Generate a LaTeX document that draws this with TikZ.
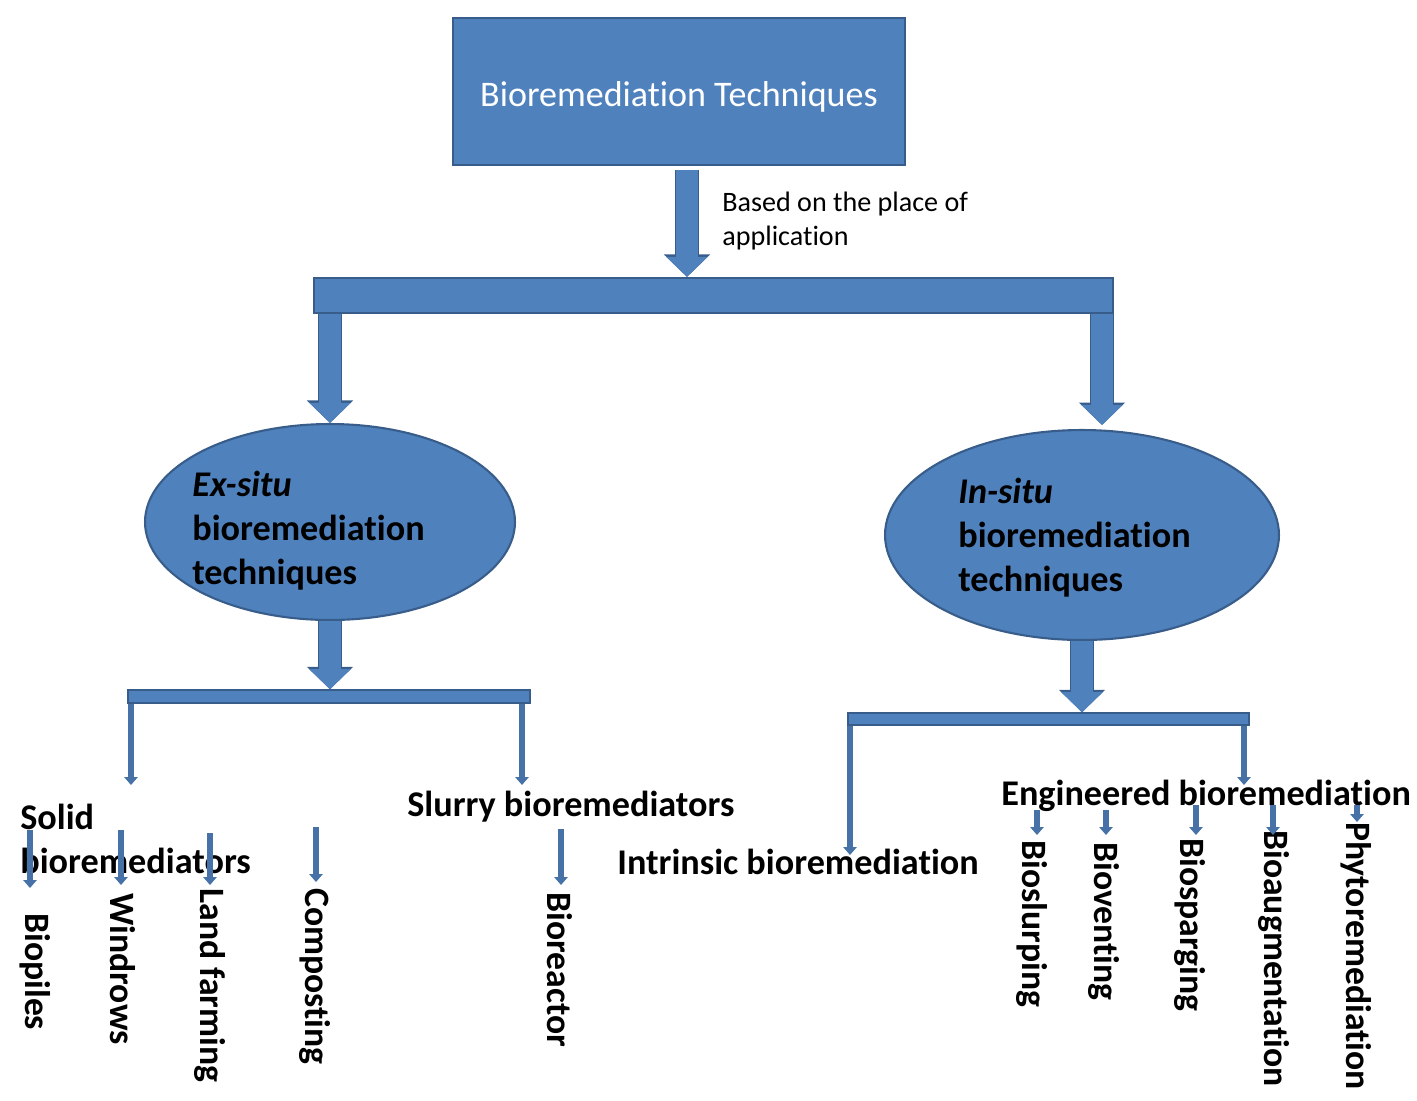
\documentclass[tikz,border=0pt]{standalone}
\usepackage{fontspec}
\setmainfont{Carlito}[Ligatures={NoCommon,NoContextual}, Contextuals=NoAlternate]
\usepackage{tikz}
\usetikzlibrary{shapes.geometric, positioning, arrows.meta, calc}
\definecolor{BRBlue}{RGB}{79,129,189}
\definecolor{BRDark}{RGB}{56,93,138}
\definecolor{BRLine}{RGB}{70,114,168}

\begin{document}
\begin{tikzpicture}[x=0.02cm, y=-0.02cm,
          box/.style={rectangle, fill=BRBlue, draw=BRDark, line width=1.2pt, inner sep=0pt},
          oval/.style={ellipse, fill=BRBlue, draw=BRDark, line width=1.2pt, inner sep=0pt},
          bigarr/.style={draw=BRBlue, line width=12pt, -{Triangle[width=23pt, length=11.5pt]},
                         preaction={draw=BRDark, line width=13.5pt, -{Triangle[width=25.5pt, length=12.8pt]}}},
          thinarr/.style={draw=BRLine, line width=3.2pt, -{Triangle[width=7.5pt, length=4.5pt]}},
          lbl/.style={font=\fontsize{20.6}{25}\selectfont\bfseries, inner sep=0pt, align=left, anchor=west},
          item/.style={font=\fontsize{20.3}{24}\selectfont\bfseries, inner sep=0pt, rotate=-90, anchor=west}
        ]
        \useasboundingbox (0,0) rectangle (1417,1100);

        % Top box
        \node[box, minimum width=9.04cm, minimum height=2.94cm, text=white, text height=20pt,
              font=\fontsize{20.5}{24}\selectfont] (techniques) at (679, 91.5)
              {Bioremediation Techniques};

        % First split
        \node[box, minimum width=15.98cm, minimum height=0.7cm] (placebar) at (713.5, 295.5) {};
        \coordinate (basetop) at (687, 170);
        \draw[bigarr] (basetop) -- (basetop |- placebar.north);
        \node[font=\fontsize{16}{19.3}\selectfont, align=left, anchor=west, inner sep=0pt]
              (basis) at (722, 221) {Based on the place of\\application};

        % Ex-situ branch
        \node[oval, minimum width=7.4cm, minimum height=3.92cm] (exsitu) at (330, 522) {};
        \node[lbl] (exsitutext) at (192, 531)
              {\textit{Ex-situ}\\bioremediation\\techniques};
        \draw[bigarr] (exsitu.north |- placebar.south) -- (exsitu.north);

        % In-situ branch
        \node[oval, minimum width=7.88cm, minimum height=4.2cm] (insitu) at (1082, 535) {};
        \node[lbl] (insitutext) at (958, 538)
              {\textit{In-situ}\\bioremediation\\techniques};
        \coordinate (insitutop) at (1102, 425);
        \draw[bigarr] (insitutop |- placebar.south) -- (insitutop);

        % Second level bars
        \node[box, line width=0.8pt, minimum width=8.04cm, minimum height=0.26cm] (exbar) at (329, 696.5) {};
        \draw[bigarr] (exsitu.south) -- (exsitu.south |- exbar.north);
        \node[box, line width=0.8pt, minimum width=8.02cm, minimum height=0.24cm] (inbar) at (1048.5, 719) {};
        \draw[bigarr] (insitu.south) -- (insitu.south |- inbar.north);

        % Second level labels
        \node[lbl] (solid) at (20, 839) {Solid\\bioremediators};
        \node[lbl] (slurry) at (407, 807) {Slurry bioremediators};
        \node[lbl] (intrinsic) at (617, 862) {Intrinsic bioremediation};
        \node[lbl] (engineered) at (1001, 796) {Engineered bioremediation};

        \coordinate (solidtip) at (131, 785);
        \coordinate (slurrytip) at (522, 785);
        \coordinate (intrinsictip) at (850, 855);
        \coordinate (engtip) at (1244, 785);
        \draw[thinarr] (solidtip |- exbar.south) -- (solidtip);
        \draw[thinarr] (slurrytip |- exbar.south) -- (slurrytip);
        \draw[thinarr] (intrinsictip |- inbar.south) -- (intrinsictip);
        \draw[thinarr] (engtip |- inbar.south) -- (engtip);

        % Ex-situ techniques
        \node[item] (biopiles) at (35, 913) {Biopiles};
        \node[item] (windrows) at (123, 893) {Windrows};
        \node[item] (landfarming) at (210, 888) {Land farming};
        \node[item] (composting) at (315, 888) {Composting};
        \node[item] (bioreactor) at (560, 892) {Bioreactor};
        \coordinate (biopilesfrom) at (30, 830);     \coordinate (biopilesto) at (30, 888);
        \coordinate (windrowsfrom) at (121, 830);    \coordinate (windrowsto) at (121, 885);
        \coordinate (landfarmingfrom) at (210, 833); \coordinate (landfarmingto) at (210, 885);
        \coordinate (compostingfrom) at (316, 827);  \coordinate (compostingto) at (316, 882);
        \coordinate (bioreactorfrom) at (561, 829);  \coordinate (bioreactorto) at (561, 885);
        \draw[thinarr] (biopilesfrom) -- (biopilesto);
        \draw[thinarr] (windrowsfrom) -- (windrowsto);
        \draw[thinarr] (landfarmingfrom) -- (landfarmingto);
        \draw[thinarr] (compostingfrom) -- (compostingto);
        \draw[thinarr] (bioreactorfrom) -- (bioreactorto);

        % In-situ techniques
        \node[item] (bioslurping) at (1032, 840) {Bioslurping};
        \node[item] (bioventing) at (1104, 842) {Bioventing};
        \node[item] (biosparging) at (1190, 838) {Biosparging};
        \node[item] (bioaugmentation) at (1274, 830) {Bioaugmentation};
        \node[item] (phytoremediation) at (1356, 822) {Phytoremediation};
        \coordinate (bioslurpingfrom) at (1037, 810);      \coordinate (bioslurpingto) at (1037, 835);
        \coordinate (bioventingfrom) at (1106, 810);       \coordinate (bioventingto) at (1106, 835);
        \coordinate (biospargingfrom) at (1196, 805);      \coordinate (biospargingto) at (1196, 835);
        \coordinate (bioaugmentationfrom) at (1273, 805);  \coordinate (bioaugmentationto) at (1273, 835);
        \coordinate (phytoremediationfrom) at (1357, 805); \coordinate (phytoremediationto) at (1357, 822);
        \draw[thinarr] (bioslurpingfrom) -- (bioslurpingto);
        \draw[thinarr] (bioventingfrom) -- (bioventingto);
        \draw[thinarr] (biospargingfrom) -- (biospargingto);
        \draw[thinarr] (bioaugmentationfrom) -- (bioaugmentationto);
        \draw[thinarr] (phytoremediationfrom) -- (phytoremediationto);
      \end{tikzpicture}
\end{document}
